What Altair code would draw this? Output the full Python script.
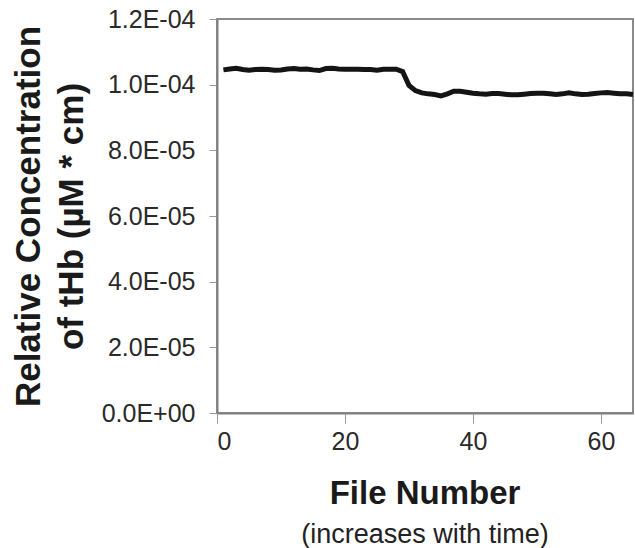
import altair as alt
import pandas as pd

file_number = list(range(1, 66))
thb = [
    1.045, 1.048, 1.050, 1.046, 1.044, 1.046, 1.047, 1.046, 1.044, 1.045,
    1.048, 1.049, 1.047, 1.048, 1.045, 1.043, 1.049, 1.050, 1.048, 1.047,
    1.047, 1.047, 1.046, 1.046, 1.044, 1.047, 1.047, 1.047, 1.040, 0.998,
    0.982, 0.975, 0.972, 0.970, 0.966, 0.972, 0.980, 0.980, 0.977, 0.974,
    0.972, 0.971, 0.973, 0.973, 0.971, 0.969, 0.969, 0.971, 0.973, 0.974,
    0.974, 0.972, 0.970, 0.972, 0.975, 0.972, 0.970, 0.971, 0.973, 0.975,
    0.976, 0.974, 0.972, 0.972, 0.970,
]
thb = [v * 1e-4 for v in thb]

df = pd.DataFrame({"file": file_number, "thb": thb})

font = "Liberation Sans"

chart = alt.Chart(df).mark_line(color="#141414", strokeWidth=5).encode(
    x=alt.X("file:Q",
            scale=alt.Scale(domain=[0, 65], nice=False, zero=False),
            axis=alt.Axis(values=[0, 20, 40, 60], title=None, grid=False,
                          labelFontSize=25, labelFont=font, labelColor="#2a2a2a",
                          labelPadding=6, tickSize=10, tickColor="#9a9a9a",
                          domainColor="#808080", domainWidth=2)),
    y=alt.Y("thb:Q",
            scale=alt.Scale(domain=[0, 1.2e-4], nice=False),
            axis=alt.Axis(values=[0, 2e-5, 4e-5, 6e-5, 8e-5, 1e-4, 1.2e-4],
                          labelExpr="replace(format(datum.value, '.1e'), /e([+-])(\\d)$/, 'E$10$2')",
                          title=["Relative Concentration", "of tHb (µM * cm)"],
                          titleFontSize=35, titleFont=font, titleFontWeight="bold",
                          titleColor="#1a1a1a", titleLineHeight=43, titlePadding=12,
                          grid=False, labelFontSize=25, labelFont=font,
                          labelColor="#2a2a2a", labelPadding=14, tickSize=8,
                          tickColor="#9a9a9a", domainColor="#808080", domainWidth=2)),
).properties(
    width=416,
    height=394,
    title=alt.TitleParams(text="File Number", subtitle="(increases with time)",
                          orient="bottom", anchor="middle", font=font,
                          fontSize=33, fontWeight="bold", color="#1a1a1a",
                          subtitleFont=font, subtitleFontSize=27,
                          subtitleColor="#222222", offset=24, subtitlePadding=11),
    autosize=alt.AutoSizeParams(type="none"),
    padding={"left": 217, "top": 19, "right": 2, "bottom": 135},
).configure_view(stroke="#8a8a8a", strokeWidth=2)

chart.save("out.html", embed_options={"renderer": "svg", "actions": False})
